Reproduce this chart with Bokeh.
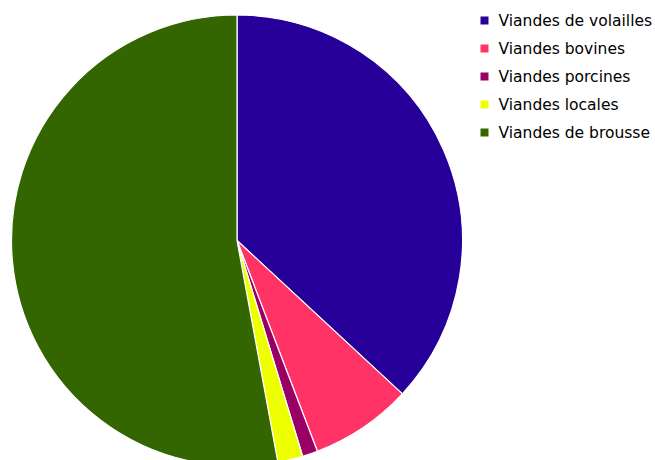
import numpy as np
from bokeh.plotting import figure
from bokeh.models import Range1d, ColumnDataSource
from bokeh.core.properties import value
from bokeh.embed import file_html
from bokeh.resources import INLINE

# Data
categories = ["Viandes de volailles", "Viandes bovines", "Viandes porcines",
              "Viandes locales", "Viandes de brousse"]
shares = [36.9, 7.3, 1.1, 1.8, 52.9]
colors = ["#270099", "#ff3366", "#990066", "#eeff00", "#336600"]

W, H = 655, 460
p = figure(width=W, height=H, output_backend="svg", toolbar_location=None,
           x_range=Range1d(0, W), y_range=Range1d(0, H), min_border=0)
p.axis.visible = False
p.grid.visible = False
p.outline_line_color = None
p.background_fill_color = "white"
p.border_fill_color = "white"

vals = np.array(shares, dtype=float)
frac = vals / vals.sum()
cum = np.concatenate([[0.0], np.cumsum(frac)])
start = np.pi / 2 - 2 * np.pi * cum[:-1]
end = np.pi / 2 - 2 * np.pi * cum[1:]

cx, cy = 236.5, H - 240
src = ColumnDataSource(dict(start=start, end=end, color=colors, cat=categories))
p.wedge(x=cx, y=cy, radius=225.5, radius_units="screen",
        start_angle="start", end_angle="end", direction="clock",
        fill_color="color", line_color="white", line_width=1.2, source=src)

# Legend drawn manually
n = len(categories)
ly = [H - (20 + 28 * i) for i in range(n)]
lsrc = ColumnDataSource(dict(x=[484] * n, tx=[498] * n, y=ly, color=colors, cat=categories))
p.scatter(x="x", y="y", marker="square", size=8, fill_color="color",
          line_color=None, source=lsrc)
p.text(x="tx", y="y", text="cat", text_font=value("DejaVu Sans"),
       text_font_size="15.5px", text_baseline="middle", text_align="left",
       text_color="black", source=lsrc)

open("out.html", "w").write(file_html(p, INLINE))
